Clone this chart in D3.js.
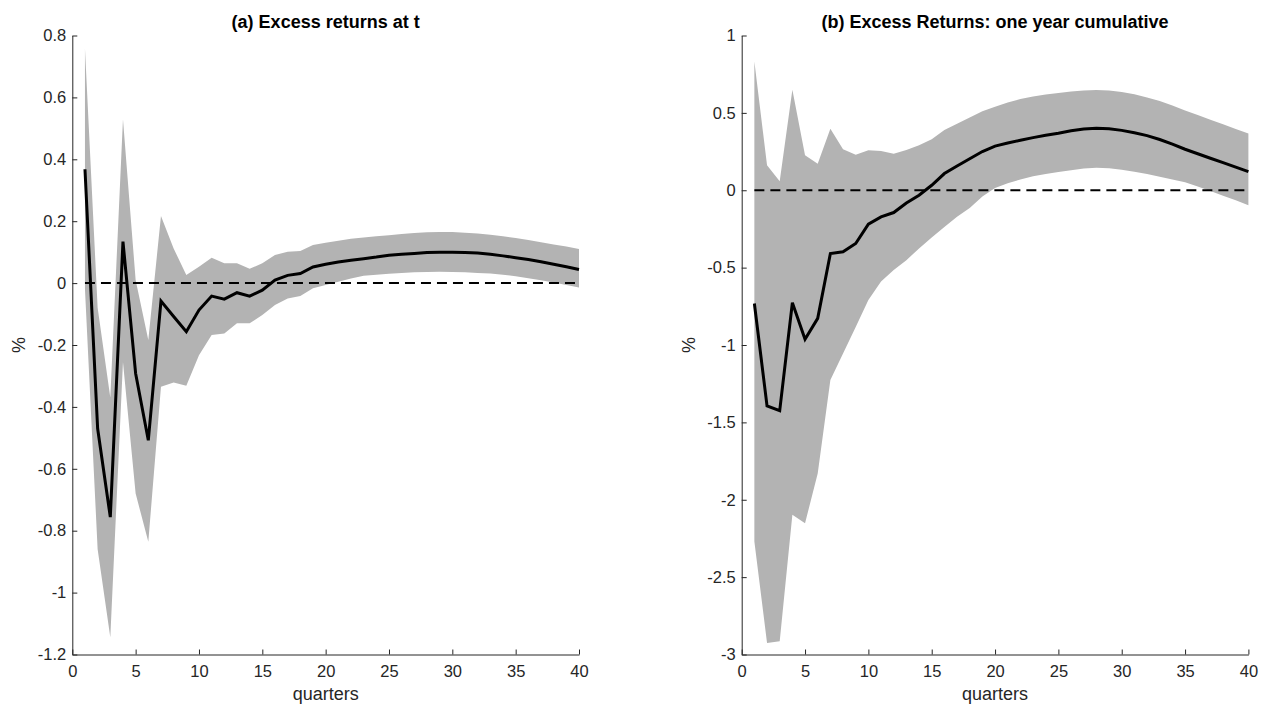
<!DOCTYPE html>
<html>
<head>
<meta charset="utf-8">
<script src="https://cdn.jsdelivr.net/npm/d3@7"></script>
<style>
  body { margin: 0; background: #fff; }
  svg { display: block; font-family: "Liberation Sans", Arial, Helvetica, sans-serif; }
</style>
</head>
<body>
<svg id="chart" width="1270" height="713"></svg>
<script>
// horizon in quarters
const quarters = [1, 2, 3, 4, 5, 6, 7, 8, 9, 10, 11, 12, 13, 14, 15, 16, 17, 18, 19, 20,
  21, 22, 23, 24, 25, 26, 27, 28, 29, 30, 31, 32, 33, 34, 35, 36, 37, 38, 39, 40];

// (a) excess returns at t: median response and band
const retMid = [0.368, -0.470, -0.756, 0.134, -0.292, -0.508, -0.058, -0.108, -0.157, -0.087,
  -0.042, -0.052, -0.031, -0.042, -0.023, 0.010, 0.025, 0.031, 0.052, 0.061,
  0.068, 0.074, 0.079, 0.084, 0.090, 0.093, 0.096, 0.099, 0.100, 0.100,
  0.099, 0.097, 0.093, 0.088, 0.082, 0.076, 0.069, 0.061, 0.053, 0.044];
const retUp = [0.757, -0.080, -0.370, 0.529, 0.010, -0.184, 0.217, 0.112, 0.026, 0.053,
  0.082, 0.064, 0.064, 0.046, 0.064, 0.091, 0.101, 0.104, 0.123, 0.130,
  0.137, 0.143, 0.147, 0.151, 0.155, 0.159, 0.162, 0.164, 0.165, 0.165,
  0.163, 0.160, 0.156, 0.151, 0.146, 0.139, 0.132, 0.125, 0.118, 0.110];
const retLo = [-0.020, -0.860, -1.144, -0.255, -0.680, -0.836, -0.335, -0.321, -0.332, -0.233,
  -0.168, -0.163, -0.130, -0.130, -0.103, -0.071, -0.050, -0.042, -0.017, -0.006,
  0.004, 0.015, 0.024, 0.027, 0.030, 0.033, 0.035, 0.036, 0.037, 0.036,
  0.035, 0.033, 0.031, 0.027, 0.022, 0.016, 0.009, 0.002, -0.006, -0.014];

// (b) one year cumulative excess returns
const cumMid = [-0.732, -1.393, -1.425, -0.727, -0.963, -0.828, -0.409, -0.398, -0.344, -0.219,
  -0.172, -0.144, -0.082, -0.032, 0.032, 0.108, 0.157, 0.204, 0.250, 0.285,
  0.305, 0.323, 0.340, 0.355, 0.368, 0.384, 0.396, 0.400, 0.397, 0.387,
  0.372, 0.353, 0.328, 0.298, 0.265, 0.236, 0.207, 0.178, 0.149, 0.120];
const cumUp = [0.832, 0.161, 0.058, 0.650, 0.226, 0.172, 0.398, 0.265, 0.230, 0.258,
  0.254, 0.236, 0.260, 0.290, 0.330, 0.390, 0.430, 0.470, 0.510, 0.540,
  0.567, 0.589, 0.606, 0.619, 0.629, 0.638, 0.645, 0.648, 0.645, 0.635,
  0.620, 0.600, 0.576, 0.547, 0.516, 0.486, 0.456, 0.426, 0.396, 0.366];
const cumLo = [-2.270, -2.925, -2.915, -2.097, -2.152, -1.830, -1.226, -1.055, -0.883, -0.710,
  -0.590, -0.516, -0.452, -0.376, -0.305, -0.237, -0.172, -0.115, -0.040, 0.015,
  0.045, 0.070, 0.090, 0.105, 0.118, 0.130, 0.140, 0.145, 0.142, 0.132,
  0.120, 0.105, 0.088, 0.070, 0.052, 0.025, -0.005, -0.035, -0.065, -0.097];

// tick labels
const xTicks = [0, 5, 10, 15, 20, 25, 30, 35, 40];
const retTicks = [0.8, 0.6, 0.4, 0.2, 0, -0.2, -0.4, -0.6, -0.8, -1, -1.2];
const retTickLabels = ['0.8', '0.6', '0.4', '0.2', '0', '-0.2', '-0.4', '-0.6', '-0.8', '-1', '-1.2'];
const cumTicks = [1, 0.5, 0, -0.5, -1, -1.5, -2, -2.5, -3];
const cumTickLabels = ['1', '0.5', '0', '-0.5', '-1', '-1.5', '-2', '-2.5', '-3'];

const svg = d3.select('#chart');
const axisColor = '#262626';

function drawPanel(p) {
  const x = d3.scaleLinear().domain([0, 40]).range([p.left, p.right]);
  const y = d3.scaleLinear().domain(p.yDomain).range([654.5, 35.5]);
  const g = svg.append('g');

  const rows = quarters.map((q, i) => ({ q, mid: p.mid[i], up: p.up[i], lo: p.lo[i] }));

  // confidence band
  g.append('path')
    .datum(rows)
    .attr('fill', '#b3b3b3')
    .attr('d', d3.area().x(d => x(d.q)).y0(d => y(d.lo)).y1(d => y(d.up)));

  // median response
  g.append('path')
    .datum(rows)
    .attr('fill', 'none')
    .attr('stroke', '#000')
    .attr('stroke-width', 3)
    .attr('stroke-linejoin', 'miter')
    .attr('d', d3.line().x(d => x(d.q)).y(d => y(d.mid)));

  // zero line
  g.append('line')
    .attr('x1', x(quarters[0])).attr('x2', x(quarters[quarters.length - 1]))
    .attr('y1', y(0)).attr('y2', y(0))
    .attr('stroke', '#000')
    .attr('stroke-width', 2)
    .attr('stroke-dasharray', '10,6');

  // axes
  const xAxis = g.append('g')
    .attr('transform', `translate(0,${y.range()[0]})`)
    .call(d3.axisBottom(x).tickValues(xTicks).tickFormat(d3.format('d'))
      .tickSizeInner(-5).tickSizeOuter(0).tickPadding(11));
  const yAxis = g.append('g')
    .attr('transform', `translate(${p.left},0)`)
    .call(d3.axisLeft(y).tickValues(p.ticks).tickFormat((d, i) => p.tickLabels[i])
      .tickSizeInner(-5).tickSizeOuter(0).tickPadding(6));

  [xAxis, yAxis].forEach(a => {
    a.select('.domain').attr('stroke', axisColor);
    a.selectAll('.tick line').attr('stroke', axisColor);
    a.selectAll('.tick text')
      .attr('fill', axisColor)
      .style('font-size', '16.5px')
      .style('font-family', '"Liberation Sans", Arial, Helvetica, sans-serif');
  });

  // title and labels
  g.append('text')
    .attr('x', (p.left + p.right) / 2)
    .attr('y', 28)
    .attr('text-anchor', 'middle')
    .style('font-size', '18px')
    .style('font-weight', 'bold')
    .attr('fill', '#000')
    .text(p.title);

  g.append('text')
    .attr('x', (p.left + p.right) / 2)
    .attr('y', 700)
    .attr('text-anchor', 'middle')
    .style('font-size', '18px')
    .attr('fill', axisColor)
    .text('quarters');

  g.append('text')
    .attr('transform', `translate(${p.left - 47},${(35.5 + 654.5) / 2}) rotate(-90)`)
    .attr('text-anchor', 'middle')
    .style('font-size', '18px')
    .attr('fill', axisColor)
    .text('%');
}

drawPanel({
  left: 72.3, right: 579,
  yDomain: [-1.2, 0.8],
  ticks: retTicks, tickLabels: retTickLabels,
  mid: retMid, up: retUp, lo: retLo,
  title: '(a) Excess returns at t'
});

drawPanel({
  left: 741.7, right: 1248.4,
  yDomain: [-3, 1],
  ticks: cumTicks, tickLabels: cumTickLabels,
  mid: cumMid, up: cumUp, lo: cumLo,
  title: '(b) Excess Returns: one year cumulative'
});
</script>
</body>
</html>
